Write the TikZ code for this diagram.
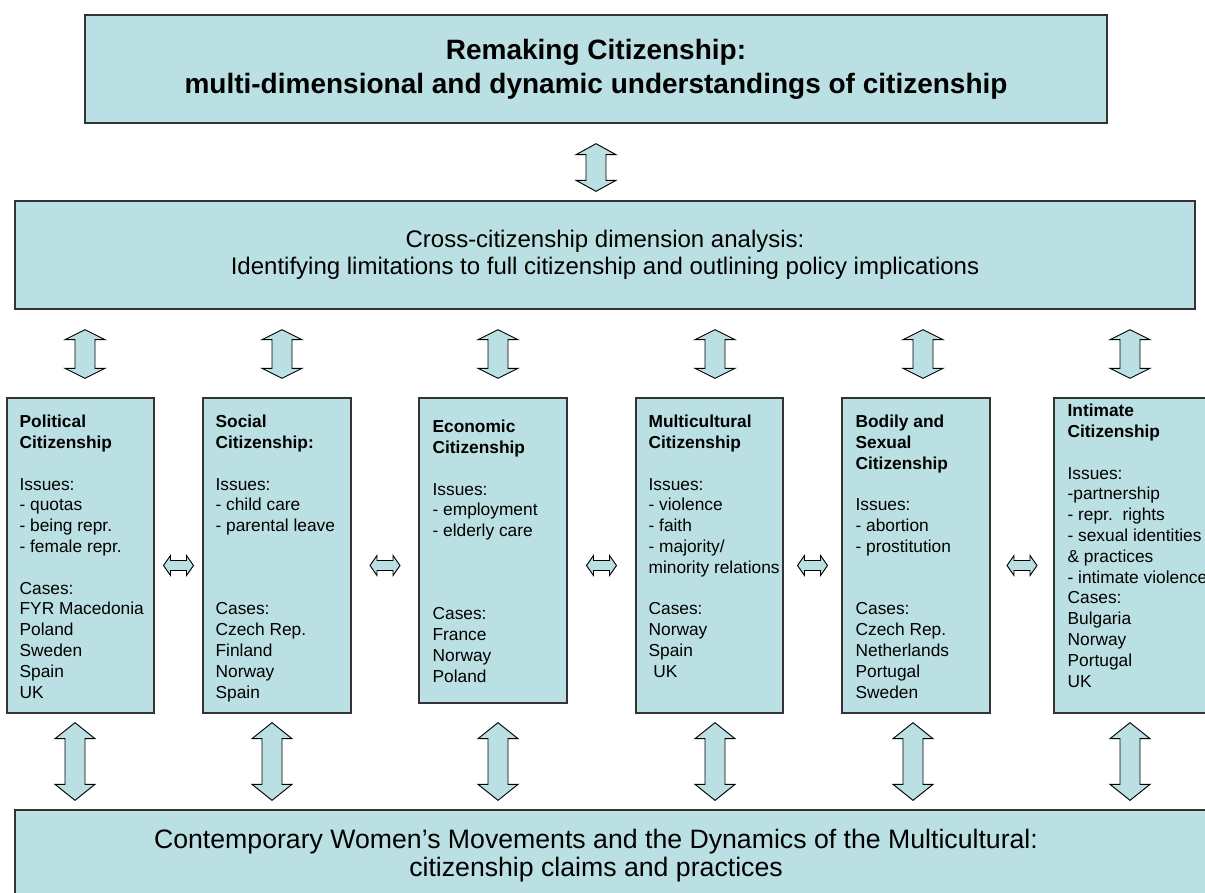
\documentclass[tikz,border=0pt]{standalone}
\usepackage{fontspec}
\setmainfont{Liberation Sans}
\usetikzlibrary{calc,fit}

\definecolor{boxblue}{RGB}{187,224,227}

\newcommand\vblock[3]{%
  \draw[blockarr] (#1) -- ($(#1)+(20,#3)$) -- ($(#1)+(10,#3)$) -- ($(#2)+(10,-#3)$) -- ($(#2)+(20,-#3)$)
    -- (#2) -- ($(#2)+(-20,-#3)$) -- ($(#2)+(-10,-#3)$) -- ($(#1)+(-10,#3)$) -- ($(#1)+(-20,#3)$) -- cycle;}
\newcommand\hblock[1]{%
  \draw[blockarr] ($(#1)+(-15,0)$) -- ($(#1)+(-8,-10)$) -- ($(#1)+(-8,-5)$) -- ($(#1)+(8,-5)$) -- ($(#1)+(8,-10)$)
    -- ($(#1)+(15,0)$) -- ($(#1)+(8,10)$) -- ($(#1)+(8,5)$) -- ($(#1)+(-8,5)$) -- ($(#1)+(-8,10)$) -- cycle;}

\begin{document}
\begin{tikzpicture}[x=0.75pt, y=-0.75pt,
    box/.style = {draw=black!80, line width=1pt, fill=boxblue, inner sep=0pt},
    btext/.style = {anchor=north west, inner sep=0pt, align=left, font=\fontsize{13}{15.6}\selectfont},
    blockarr/.style = {draw=black, line width=0.7pt, fill=boxblue}]
    \useasboundingbox (0,0) rectangle (1205,892);
    \clip (0,0) rectangle (1205,892);

    \node[box, fit={(85,15) (1107,123)}]   (top)    {};
    \node[box, fit={(15,201) (1195,309)}]  (cross)  {};
    \node[box, fit={(7,398) (154,713)}]    (pol)    {};
    \node[box, fit={(203,398) (351,713)}]  (soc)    {};
    \node[box, fit={(419,398) (567,703)}]  (eco)    {};
    \node[box, fit={(636,398) (783,713)}]  (mul)    {};
    \node[box, fit={(842,398) (990,713)}]  (bod)    {};
    \node[box, fit={(1054,398) (1206,713)}] (inti)  {};
    \node[box, fit={(15,810) (1210,900)}]  (bottom) {};

    \node[align=center, font=\fontsize{21}{25.5}\bfseries] (top-t) at (top.center)
        {Remaking Citizenship:\\multi-dimensional and dynamic understandings of citizenship};
    \node[align=center, font=\fontsize{18}{20.5}\selectfont] (cross-t) at (cross.center)
        {Cross-citizenship dimension analysis:\\Identifying limitations to full citizenship and outlining policy implications};
    \node[align=center, font=\fontsize{20}{21}\selectfont] (bottom-t) at (596,856)
        {Contemporary Women’s Movements and the Dynamics of the Multicultural:\\citizenship claims and practices};

    \node[btext] (pol-t) at ($(pol.north west)+(13,17.5)$)
        {\textbf{Political}\\\textbf{Citizenship}\\[\baselineskip]Issues:\\- quotas\\- being repr.\\- female repr.\\[\baselineskip]Cases:\\FYR Macedonia\\Poland\\Sweden\\Spain\\UK};
    \node[btext] (soc-t) at ($(soc.north west)+(13,17.5)$)
        {\textbf{Social}\\\textbf{Citizenship:}\\[\baselineskip]Issues:\\- child care\\- parental leave\\[3\baselineskip]Cases:\\Czech Rep.\\Finland\\Norway\\Spain};
    \node[btext] (eco-t) at ($(eco.north west)+(14,22.5)$)
        {\textbf{Economic}\\\textbf{Citizenship}\\[\baselineskip]Issues:\\- employment\\- elderly care\\[3\baselineskip]Cases:\\France\\Norway\\Poland};
    \node[btext] (mul-t) at ($(mul.north west)+(13,17.5)$)
        {\textbf{Multicultural}\\\textbf{Citizenship}\\[\baselineskip]Issues:\\- violence\\- faith\\- majority/\\minority relations\\[\baselineskip]Cases:\\Norway\\Spain\\\ UK};
    \node[btext] (bod-t) at ($(bod.north west)+(14,17.5)$)
        {\textbf{Bodily and}\\\textbf{Sexual}\\\textbf{Citizenship}\\[\baselineskip]Issues:\\- abortion\\- prostitution\\[2\baselineskip]Cases:\\Czech Rep.\\Netherlands\\Portugal\\Sweden};
    \node[btext] (inti-t) at ($(inti.north west)+(14,6.5)$)
        {\textbf{Intimate}\\\textbf{Citizenship}\\[\baselineskip]Issues:\\-partnership\\- repr.\ \ rights\\- sexual identities\\\& practices\\- intimate violence\\Cases:\\Bulgaria\\Norway\\Portugal\\UK};

    \coordinate (top-a) at ($(top.south)+(0,20)$);
    \coordinate (top-b) at ($(cross.north -| top.south)+(0,-9)$);
    \vblock{top-a}{top-b}{11}

    \foreach \b/\d in {pol/4.5, soc/5, eco/5, mul/5.5, bod/7, inti/0}{
        \coordinate (\b-ua) at ($(\b.north |- cross.south)+(\d,20)$);
        \coordinate (\b-ub) at ($(\b.north)+(\d,-19)$);
        \vblock{\b-ua}{\b-ub}{10}
    }
    \foreach \b/\d in {pol/-5.5, soc/-5, eco/5, mul/5.5, bod/-3, inti/0}{
        \coordinate (\b-la) at ($(\b.south |- pol.south)+(\d,9)$);
        \coordinate (\b-lb) at ($(\b.south |- bottom.north)+(\d,-9)$);
        \vblock{\b-la}{\b-lb}{16}
    }
    \foreach \a/\b in {pol/soc, soc/eco, eco/mul, mul/bod, bod/inti}{
        \coordinate (\a-\b-m) at ($(\a.east)!0.5!(\b.west)$);
        \coordinate (\a-\b) at ($(\a-\b-m |- pol.east)+(0,10)$);
        \hblock{\a-\b}
    }
\end{tikzpicture}
\end{document}
